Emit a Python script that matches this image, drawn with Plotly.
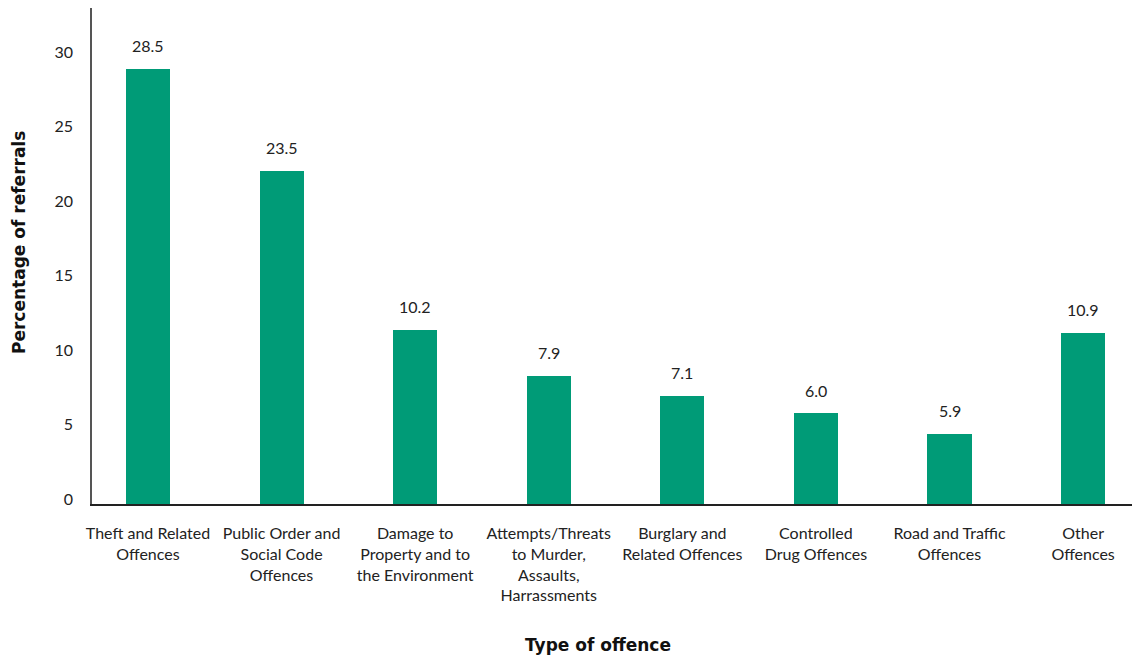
import plotly.graph_objects as go

categories = [
    "Theft and Related<br>Offences",
    "Public Order and<br>Social Code<br>Offences",
    "Damage to<br>Property and to<br>the Environment",
    "Attempts/Threats<br>to Murder,<br>Assaults,<br>Harrassments",
    "Burglary and<br>Related Offences",
    "Controlled<br>Drug Offences",
    "Road and Traffic<br>Offences",
    "Other<br>Offences",
]
bar_heights = [29.2, 22.35, 11.7, 8.6, 7.25, 6.1, 4.7, 11.5]
value_labels = ["28.5", "23.5", "10.2", "7.9", "7.1", "6.0", "5.9", "10.9"]
y_ticks = [0, 5, 10, 15, 20, 25, 30]

FONT = "Lato"
TITLE_FONT = "DejaVu Sans"
fig = go.Figure()
fig.add_trace(go.Bar(
    x=list(range(len(categories))), y=bar_heights, width=0.33,
    marker=dict(color="#009B77", line=dict(width=0)),
    hoverinfo="skip",
))

for i, (h, lab) in enumerate(zip(bar_heights, value_labels)):
    fig.add_annotation(x=i, y=h, text=lab, showarrow=False, yanchor="middle",
                       yshift=23, font=dict(family=FONT, size=16, color="#222222"))

fig.add_annotation(xref="paper", yref="paper", x=(598 - 92) / 1040, y=-(645 - 504) / 496,
                   text="<b>Type of offence</b>", showarrow=False, yanchor="middle",
                   font=dict(family=TITLE_FONT, size=17, color="#111111"))
fig.add_annotation(xref="paper", yref="paper", x=-(92 - 19) / 1040, y=(504 - 243) / 496,
                   text="<b>Percentage of referrals</b>", showarrow=False, textangle=-90,
                   xanchor="center", yanchor="middle",
                   font=dict(family=TITLE_FONT, size=17, color="#111111"))

fig.update_layout(
    width=1132, height=657,
    margin=dict(l=92, r=0, t=8, b=153),
    plot_bgcolor="white", paper_bgcolor="white",
    showlegend=False, bargap=0,
    font=dict(family=FONT, size=16, color="#222222"),
)
fig.update_xaxes(
    range=[-0.419, 7.366], tickmode="array",
    tickvals=list(range(len(categories))), ticktext=categories,
    showgrid=False, zeroline=False, showline=True, linecolor="#222222", linewidth=1.5,
    ticks="", ticklabelstandoff=14, tickfont=dict(family=FONT, size=16, color="#222222"),
)
fig.update_yaxes(
    range=[0, 496 / 14.9], tickmode="array", tickvals=y_ticks,
    showgrid=False, zeroline=False, showline=True, linecolor="#555555", linewidth=1.5,
    ticks="", ticklabelstandoff=14, ticklabelshift=-5,
    tickfont=dict(family=FONT, size=16, color="#222222"),
)

fig.write_html("out.html")
